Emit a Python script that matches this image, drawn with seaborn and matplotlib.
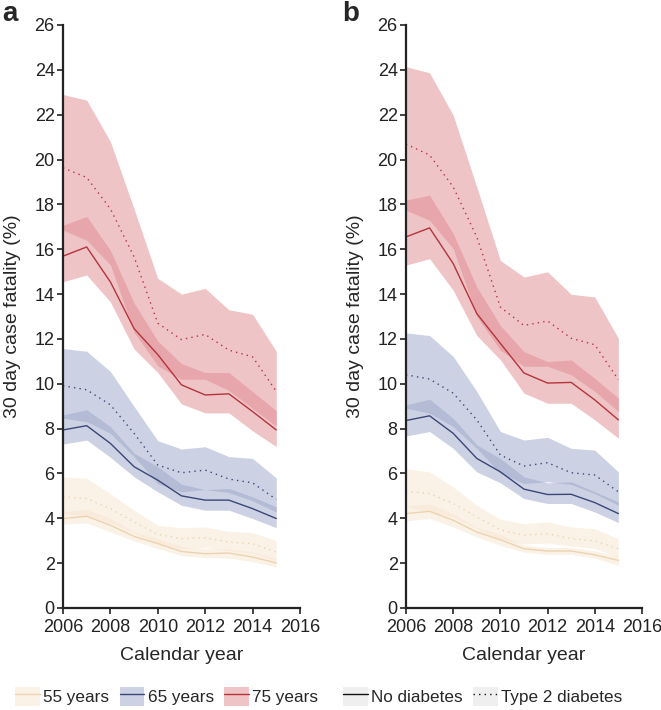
import numpy as np
import pandas as pd
import matplotlib
matplotlib.use("Agg")
import matplotlib.pyplot as plt
import seaborn as sns
from matplotlib.patches import Patch
from matplotlib.lines import Line2D

years = [2006, 2007, 2008, 2009, 2010, 2011, 2012, 2013, 2014, 2015]
ages = ["55 years", "65 years", "75 years"]

# ---- panel a ----
a55_nd = [3.99, 4.09, 3.69, 3.19, 2.87, 2.52, 2.42, 2.45, 2.27, 2.01]
a55_nd_lo = [3.73, 3.79, 3.39, 2.99, 2.64, 2.34, 2.24, 2.22, 2.07, 1.82]
a55_nd_hi = [4.30, 4.40, 4.00, 3.40, 3.10, 2.75, 2.65, 2.65, 2.50, 2.20]
a55_t2 = [4.96, 4.88, 4.43, 3.84, 3.28, 3.09, 3.13, 2.94, 2.87, 2.49]
a55_t2_lo = [4.20, 4.10, 3.80, 3.35, 2.85, 2.65, 2.70, 2.55, 2.45, 2.10]
a55_t2_hi = [5.85, 5.78, 5.10, 4.36, 3.69, 3.58, 3.61, 3.42, 3.36, 3.01]

a65_nd = [7.94, 8.13, 7.34, 6.30, 5.70, 5.00, 4.81, 4.81, 4.43, 3.99]
a65_nd_lo = [7.31, 7.49, 6.72, 5.85, 5.18, 4.58, 4.36, 4.36, 3.99, 3.58]
a65_nd_hi = [8.61, 8.84, 8.09, 6.90, 6.30, 5.52, 5.28, 5.33, 4.96, 4.51]
a65_t2 = [9.91, 9.73, 9.06, 7.79, 6.37, 6.03, 6.15, 5.75, 5.58, 4.84]
a65_t2_lo = [8.46, 8.31, 7.79, 6.75, 5.55, 5.18, 5.28, 5.15, 4.78, 4.28]
a65_t2_hi = [11.57, 11.45, 10.55, 8.99, 7.46, 7.09, 7.19, 6.75, 6.67, 5.80]

a75_nd = [15.69, 16.10, 14.54, 12.46, 11.30, 9.95, 9.50, 9.55, 8.76, 7.94]
a75_nd_lo = [14.55, 14.85, 13.65, 11.55, 10.50, 9.10, 8.70, 8.70, 7.90, 7.20]
a75_nd_hi = [17.07, 17.46, 15.95, 13.60, 11.90, 10.90, 10.50, 10.50, 9.65, 8.80]
a75_t2 = [19.63, 19.20, 17.80, 15.66, 12.70, 11.97, 12.20, 11.50, 11.20, 9.66]
a75_t2_lo = [16.85, 16.40, 15.30, 12.30, 10.80, 10.20, 10.20, 9.70, 8.90, 8.10]
a75_t2_hi = [22.90, 22.65, 20.80, 17.80, 14.70, 14.00, 14.25, 13.30, 13.10, 11.45]

# ---- panel b ----
b55_nd = [4.21, 4.31, 3.91, 3.39, 3.04, 2.64, 2.54, 2.54, 2.37, 2.12]
b55_nd_lo = [3.88, 3.99, 3.61, 3.16, 2.79, 2.49, 2.39, 2.39, 2.22, 1.90]
b55_nd_hi = [4.55, 4.65, 4.20, 3.60, 3.30, 2.80, 2.70, 2.70, 2.55, 2.30]
b55_t2 = [5.21, 5.10, 4.66, 4.06, 3.49, 3.24, 3.31, 3.09, 2.99, 2.64]
b55_t2_lo = [4.50, 4.30, 4.05, 3.55, 3.05, 2.85, 2.90, 2.75, 2.65, 2.25]
b55_t2_hi = [6.22, 6.07, 5.40, 4.58, 3.96, 3.76, 3.84, 3.61, 3.54, 3.09]

b65_nd = [8.36, 8.57, 7.79, 6.67, 6.07, 5.30, 5.06, 5.07, 4.70, 4.21]
b65_nd_lo = [7.67, 7.87, 7.12, 6.07, 5.58, 4.88, 4.66, 4.66, 4.28, 3.81]
b65_nd_hi = [9.06, 9.31, 8.46, 7.27, 6.67, 5.85, 5.58, 5.63, 5.18, 4.73]
b65_t2 = [10.40, 10.21, 9.58, 8.39, 6.82, 6.33, 6.48, 6.03, 5.93, 5.18]
b65_t2_lo = [8.91, 8.69, 8.09, 7.12, 6.00, 5.55, 5.63, 5.51, 5.10, 4.58]
b65_t2_hi = [12.27, 12.15, 11.22, 9.66, 7.87, 7.49, 7.61, 7.12, 7.04, 6.07]

b75_nd = [16.55, 16.95, 15.36, 13.13, 11.80, 10.48, 10.03, 10.06, 9.28, 8.39]
b75_nd_lo = [15.29, 15.58, 14.17, 12.15, 11.07, 9.58, 9.13, 9.13, 8.39, 7.57]
b75_nd_hi = [18.19, 18.41, 16.70, 14.32, 12.60, 11.43, 10.99, 11.06, 10.24, 9.36]
b75_t2 = [20.69, 20.20, 18.78, 16.55, 13.42, 12.60, 12.80, 12.03, 11.74, 10.18]
b75_t2_lo = [17.74, 17.29, 16.03, 13.00, 11.50, 10.78, 10.78, 10.40, 9.66, 8.76]
b75_t2_hi = [24.14, 23.87, 21.98, 18.78, 15.50, 14.76, 14.99, 13.99, 13.87, 12.03]

line_colors = {"55 years": "#ecd3b0", "65 years": "#3b4778", "75 years": "#b5343c"}
fill_colors = {"55 years": "#f8e6d0", "65 years": "#9ba6c9", "75 years": "#e08a90"}
fill_alpha = 0.5
dotted = (0, (1, 3))

panel_a = {
    "55 years": (a55_nd, a55_nd_lo, a55_nd_hi, a55_t2, a55_t2_lo, a55_t2_hi),
    "65 years": (a65_nd, a65_nd_lo, a65_nd_hi, a65_t2, a65_t2_lo, a65_t2_hi),
    "75 years": (a75_nd, a75_nd_lo, a75_nd_hi, a75_t2, a75_t2_lo, a75_t2_hi),
}
panel_b = {
    "55 years": (b55_nd, b55_nd_lo, b55_nd_hi, b55_t2, b55_t2_lo, b55_t2_hi),
    "65 years": (b65_nd, b65_nd_lo, b65_nd_hi, b65_t2, b65_t2_lo, b65_t2_hi),
    "75 years": (b75_nd, b75_nd_lo, b75_nd_hi, b75_t2, b75_t2_lo, b75_t2_hi),
}

sns.set_style("ticks")
plt.rcParams["font.family"] = ["Liberation Sans", "DejaVu Sans"]

fig = plt.figure(figsize=(6.61, 7.10), dpi=100)
ax_a = fig.add_axes([0.0953, 0.1437, 0.3585, 0.8211])
ax_b = fig.add_axes([0.6142, 0.1437, 0.3570, 0.8211])


def draw_panel(ax, panel):
    for age in ages:
        nd, nd_lo, nd_hi, t2, t2_lo, t2_hi = panel[age]
        ax.fill_between(years, nd_lo, nd_hi, color=fill_colors[age],
                        alpha=fill_alpha, linewidth=0)
        ax.fill_between(years, t2_lo, t2_hi, color=fill_colors[age],
                        alpha=fill_alpha, linewidth=0)
        df = pd.DataFrame({"year": years, "nd": nd, "t2": t2})
        sns.lineplot(data=df, x="year", y="nd", ax=ax, color=line_colors[age],
                     linewidth=1.0)
        sns.lineplot(data=df, x="year", y="t2", ax=ax, color=line_colors[age],
                     linewidth=1.0, linestyle=dotted)
    ax.set_xlim(2006, 2016)
    ax.set_ylim(0, 26)
    ax.set_xticks(range(2006, 2017, 2))
    ax.set_yticks(range(0, 27, 2))
    ax.tick_params(labelsize=13, length=4, width=1.2, colors="#222222",
                   labelcolor="#222222")
    ax.tick_params(axis="x", pad=4)
    ax.tick_params(axis="y", pad=2)
    for s in ["left", "bottom"]:
        ax.spines[s].set_linewidth(1.6)
        ax.spines[s].set_color("#222222")
    sns.despine(ax=ax)
    ax.set_xlabel("Calendar year", fontsize=14, labelpad=8)
    ax.set_ylabel("30 day case fatality (%)", fontsize=14, labelpad=10)


draw_panel(ax_a, panel_a)
draw_panel(ax_b, panel_b)

fig.text(0.004, 0.999, "a", fontsize=20, fontweight="bold", va="top")
fig.text(0.518, 0.999, "b", fontsize=20, fontweight="bold", va="top")

age_handles = [(Patch(facecolor=fill_colors[age], alpha=fill_alpha, linewidth=0),
                Line2D([], [], color=line_colors[age], linewidth=1.0)) for age in ages]
dm_handles = [(Patch(facecolor="#efefef", linewidth=0),
               Line2D([], [], color="#111111", linewidth=1.0)),
              (Patch(facecolor="#efefef", linewidth=0),
               Line2D([], [], color="#111111", linewidth=1.0, linestyle=dotted))]
dm_labels = ["No diabetes", "Type 2 diabetes"]

leg_kw = dict(ncol=5, frameon=False, fontsize=12.3, handlelength=1.45,
              handleheight=1.4, handletextpad=0.2, columnspacing=0.6,
              borderpad=0, borderaxespad=0)
fig.legend(age_handles, ages, loc="center left", bbox_to_anchor=(0.023, 0.019),
           **leg_kw)
fig.legend(dm_handles, dm_labels, loc="center left", bbox_to_anchor=(0.519, 0.019),
           **leg_kw)

fig.savefig("out.png", dpi=100)
